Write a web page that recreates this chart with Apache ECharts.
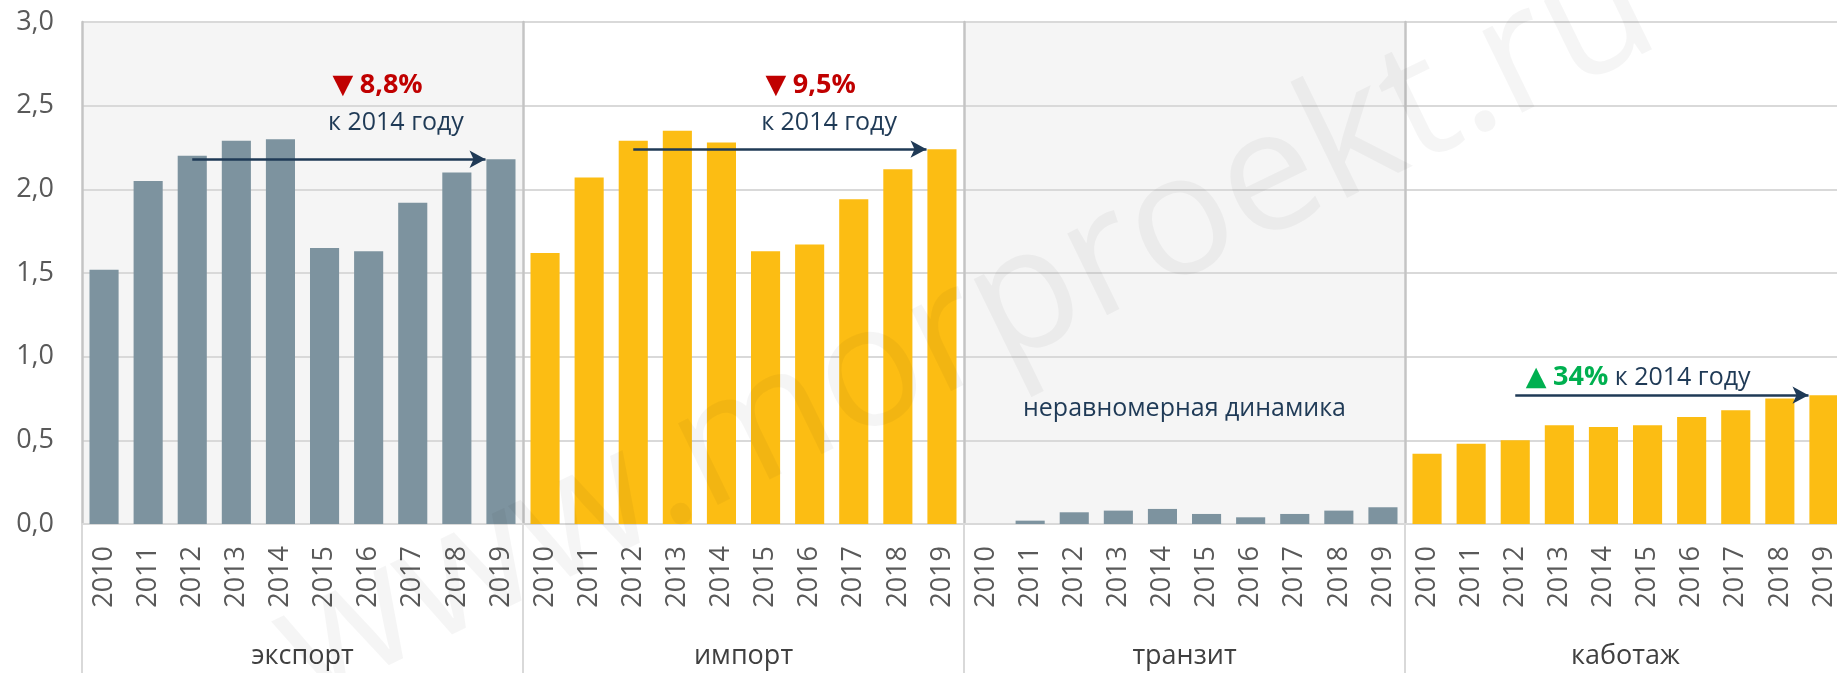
<!DOCTYPE html>
<html>
<head>
<meta charset="utf-8">
<title>Экспорт, импорт, транзит, каботаж</title>
<script src="https://cdn.jsdelivr.net/npm/echarts@6/dist/echarts.min.js"></script>
<style>
  html, body { margin: 0; padding: 0; background: #fff; }
  #chart { width: 1837px; height: 673px; }
</style>
</head>
<body>
<div id="chart"></div>
<script>
// categories
const years = ['2010', '2011', '2012', '2013', '2014', '2015', '2016', '2017', '2018', '2019'];
const groups = ['экспорт', 'импорт', 'транзит', 'каботаж'];

// series values
const exportValues = [1.52, 2.05, 2.20, 2.29, 2.30, 1.65, 1.63, 1.92, 2.10, 2.18];
const importValues = [1.62, 2.07, 2.29, 2.35, 2.28, 1.63, 1.67, 1.94, 2.12, 2.24];
const transitValues = [0, 0.02, 0.07, 0.08, 0.09, 0.06, 0.04, 0.06, 0.08, 0.10];
const cabotageValues = [0.42, 0.48, 0.50, 0.59, 0.58, 0.59, 0.64, 0.68, 0.75, 0.77];

// y axis ticks
const yMin = 0, yMax = 3, yStep = 0.5;

const FONT = '"Open Sans", "Noto Sans", sans-serif';
const GRAY = '#7d939f';
const YELLOW = '#fcbd13';
const NAVY = '#1f3a56';

const panels = [
    { values: exportValues, color: GRAY, shaded: true },
    { values: importValues, color: YELLOW, shaded: false },
    { values: transitValues, color: GRAY, shaded: true },
    { values: cabotageValues, color: YELLOW, shaded: false }
];

const PLOT_LEFT = 82, PLOT_TOP = 22, PANEL_W = 441, PLOT_H = 502;
const BAR_FRAC = 0.66;

const chart = echarts.init(document.getElementById('chart'), null, { renderer: 'canvas' });

const grid = [], xAxis = [], yAxis = [], series = [];

panels.forEach((p, i) => {
    grid.push({
        left: PLOT_LEFT + i * PANEL_W,
        top: PLOT_TOP,
        width: PANEL_W,
        height: PLOT_H,
        show: true,
        backgroundColor: p.shaded ? '#f5f5f5' : 'rgba(0,0,0,0)',
        borderWidth: 0,
        outerBoundsMode: 'none',
        containLabel: false
    });
    // years
    xAxis.push({
        type: 'category',
        gridIndex: i,
        position: 'bottom',
        data: years,
        axisLine: { show: true, lineStyle: { color: '#d9d9d9', width: 2 } },
        axisTick: { show: false },
        axisLabel: { rotate: 90, margin: 22, fontSize: 27, color: '#595959', fontFamily: FONT, interval: 0 }
    });
    // group name with boundary ticks running to the bottom
    xAxis.push({
        type: 'category',
        gridIndex: i,
        position: 'bottom',
        offset: 0,
        data: [groups[i]],
        axisLine: { show: false },
        axisTick: { show: true, length: 150, interval: 0, lineStyle: { color: '#d9d9d9', width: 2 } },
        axisLabel: { margin: 119, fontSize: 27, color: '#404040', fontFamily: FONT }
    });
    // hidden value axis over the bands, for annotations
    xAxis.push({ type: 'value', gridIndex: i, min: 0, max: years.length, show: false });

    yAxis.push({
        type: 'value',
        gridIndex: i,
        min: yMin,
        max: yMax,
        interval: yStep,
        axisLine: { show: true, lineStyle: { color: '#c4c4c4', width: 2.5 } },
        axisTick: { show: false },
        splitLine: { show: true, lineStyle: { color: '#d9d9d9', width: 2 } },
        axisLabel: {
            show: i === 0,
            margin: 28,
            fontSize: 27,
            color: '#595959',
            fontFamily: FONT,
            formatter: v => v.toFixed(1).replace('.', ',')
        }
    });

    series.push({
        type: 'bar',
        xAxisIndex: i * 3,
        yAxisIndex: i,
        data: p.values,
        barWidth: (BAR_FRAC * 100) + '%',
        itemStyle: { color: p.color },
        silent: true,
        z: 2
    });
});

// arrows from 2012 to the left edge of the 2019 bar, at the 2019 level
const arrows = [
    { panel: 0, from: '2012' },
    { panel: 1, from: '2012' },
    { panel: 3, from: '2012' }
];
arrows.forEach(a => {
    const vals = panels[a.panel].values;
    const last = vals[vals.length - 1];
    const x0 = years.indexOf(a.from) + 0.5;
    const x1 = years.length - 0.5 - BAR_FRAC / 2 - 0.02;
    series.push({
        type: 'line',
        xAxisIndex: a.panel * 3 + 2,
        yAxisIndex: a.panel,
        data: [],
        silent: true,
        z: 3,
        markLine: {
            silent: true,
            symbol: ['none', 'arrow'],
            symbolSize: [13, 16],
            label: { show: false },
            lineStyle: { color: NAVY, width: 2.5, type: 'solid' },
            data: [[{ coord: [x0, last] }, { coord: [x1, last] }]]
        }
    });
});

chart.setOption({
    animation: false,
    backgroundColor: '#ffffff',
    grid: grid,
    xAxis: xAxis,
    yAxis: yAxis,
    series: series
});

// text annotations, placed through the panel scales
const notes = [
    { panel: 0, x: 5.68, y: 2.62, align: 'left', text: '{dn|▼} {pct|8,8%}' },
    { panel: 0, x: 5.58, y: 2.40, align: 'left', text: '{txt|к 2014 году}' },
    { panel: 1, x: 5.5, y: 2.62, align: 'left', text: '{dn|▼} {pct|9,5%}' },
    { panel: 1, x: 5.4, y: 2.40, align: 'left', text: '{txt|к 2014 году}' },
    { panel: 2, x: 5.0, y: 0.69, align: 'center', text: '{txt|неравномерная динамика}' },
    { panel: 3, x: 2.74, y: 0.875, align: 'left', text: '{up|▲} {pctUp|34%} {txt|к 2014 году}' }
];

const rich = {
    dn: { fill: '#c00000', fontSize: 27, fontFamily: 'DejaVu Sans' },
    up: { fill: '#00b050', fontSize: 27, fontFamily: 'DejaVu Sans' },
    pct: { fill: '#c00000', fontSize: 27, fontWeight: 'bold', fontFamily: FONT },
    pctUp: { fill: '#00b050', fontSize: 27, fontWeight: 'bold', fontFamily: FONT },
    txt: { fill: NAVY, fontSize: 25, fontFamily: FONT }
};

const elements = notes.map(n => {
    const pt = chart.convertToPixel({ xAxisIndex: n.panel * 3 + 2, yAxisIndex: n.panel }, [n.x, n.y]);
    return {
        type: 'text',
        x: pt[0],
        y: pt[1],
        z: 10,
        silent: true,
        style: {
            text: n.text,
            rich: rich,
            align: n.align,
            verticalAlign: 'middle',
            fontFamily: FONT,
            fontSize: 25
        }
    };
});

// faint watermark
elements.push({
    type: 'text',
    x: 966,
    y: 330,
    rotation: 26 * Math.PI / 180,
    z: 20,
    silent: true,
    style: {
        text: 'www.morproekt.ru',
        align: 'center',
        verticalAlign: 'middle',
        fontFamily: FONT,
        fontSize: 170,
        fill: 'rgba(0,0,0,0.04)'
    }
});

chart.setOption({ graphic: { elements: elements } });

window.addEventListener('resize', function() {
    chart.resize();
});
</script>
</body>
</html>
